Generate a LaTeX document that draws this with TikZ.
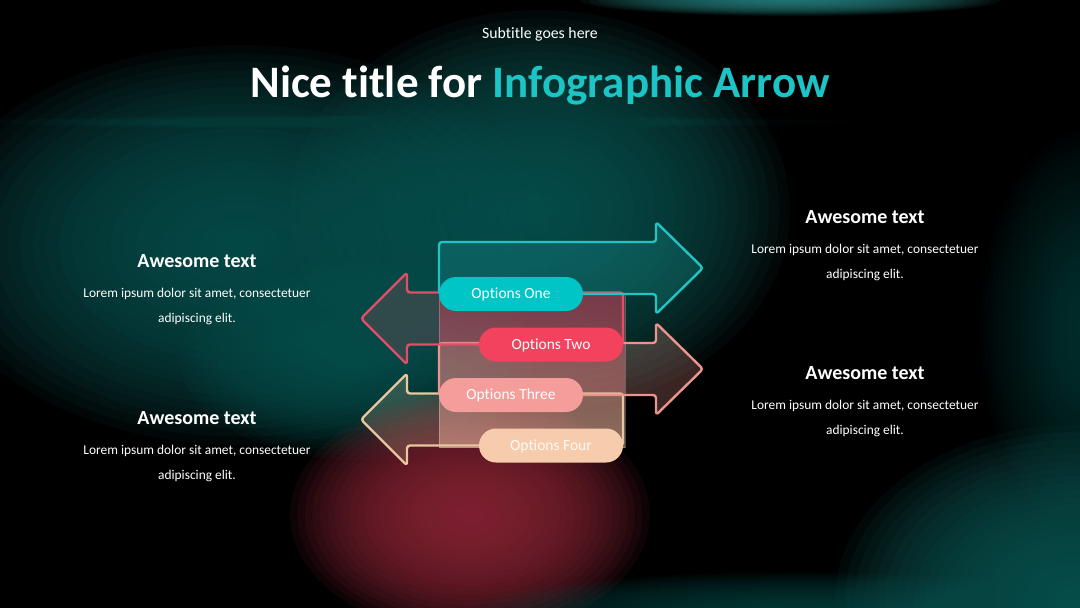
\documentclass[tikz,border=0pt]{standalone}
\usepackage{fontspec}
\setmainfont{Carlito}[Ligatures=NoCommon]

\definecolor{bgteal}{HTML}{0E5754}
\definecolor{bgteallight}{HTML}{2A8C89}
\definecolor{bgred}{HTML}{8C2738}
\definecolor{titleteal}{HTML}{1CC4C6}
\definecolor{arrteal}{HTML}{22C3C2}
\definecolor{arrred}{HTML}{E24E68}
\definecolor{arrpink}{HTML}{E9958E}
\definecolor{arrpeach}{HTML}{E7C6A0}
\definecolor{pillone}{HTML}{00C5C7}
\definecolor{pilltwo}{HTML}{F3425E}
\definecolor{pillthree}{HTML}{F59D9A}
\definecolor{pillfour}{HTML}{F6CCAC}
\definecolor{rtop}{HTML}{B8304A}
\definecolor{rbot}{HTML}{EBB3A0}

% soft glow built from concentric translucent ellipses
\newcommand\glowblob[6]{%
  \foreach \k in {1,...,24}{%
    \fill[#5, fill opacity=#6] (#1,#2) ellipse [x radius={#3*\k/24}, y radius={#4*\k/24}];}}

\tikzset{
  arrowshape/.style={line width=2.4pt, rounded corners=3pt, line join=round},
  pill/.style={rounded corners=17pt, minimum width=144pt, minimum height=34pt, inner sep=0pt,
    text height=10pt, text depth=1pt, font=\fontsize{15.5}{18}\selectfont, text=white},
  headtxt/.style={anchor=base, text=white, font=\bfseries\fontsize{20}{24}\selectfont, inner sep=0pt},
  bodytxt/.style={anchor=base, text=white, font=\fontsize{13.4}{16}\selectfont, inner sep=0pt},
}

\begin{document}
\begin{tikzpicture}[x=1pt, y=-1pt]
\useasboundingbox (0,0) rectangle (1080,608);
\fill[black] (0,0) rectangle (1080,608);

% background glows
\glowblob{240}{245}{310}{200}{bgteal}{0.085}
\glowblob{540}{210}{250}{200}{bgteal}{0.095}
\glowblob{360}{360}{180}{100}{bgteal}{0.07}
\glowblob{790}{0}{210}{16}{bgteallight}{0.08}
\glowblob{400}{122}{460}{7}{bgteallight}{0.012}
\glowblob{470}{515}{180}{120}{bgred}{0.1}
\glowblob{1075}{600}{240}{175}{bgteal}{0.1}
\glowblob{1090}{330}{110}{200}{bgteal}{0.04}
\glowblob{800}{612}{330}{40}{bgteal}{0.05}

% central glass panel
\shade[top color=rtop, bottom color=rbot, fill opacity=0.5] (439,293) rectangle (625,447);
\draw[white, opacity=0.25, line width=1pt] (439,293) rectangle (625,447);

% arrows
\draw[arrowshape, draw=arrpeach, fill=arrpeach, fill opacity=0.2]
  (623,393.5) -- (407,393.5) -- (407,373.5) -- (361,419.5) -- (407,465.5) -- (407,445.5) -- (623,445.5) -- cycle;
\draw[arrowshape, draw=arrpink, fill=arrpink, fill opacity=0.25]
  (439,343) -- (656,343) -- (656,323) -- (703,369) -- (656,415) -- (656,395) -- (439,395) -- cycle;
\draw[arrowshape, draw=arrred, fill=arrred, fill opacity=0.2]
  (623,292.5) -- (407,292.5) -- (407,272.5) -- (361,318.5) -- (407,364.5) -- (407,344.5) -- (623,344.5) -- cycle;
\draw[arrowshape, draw=arrteal, fill=arrteal, fill opacity=0.2]
  (439,242) -- (656,242) -- (656,222) -- (703,268) -- (656,314) -- (656,294) -- (439,294) -- cycle;

% pills
\node[pill, fill=pillone] (p1) at (511,294) {Options One};
\node[pill, fill=pilltwo] (p2) at (551,344.5) {Options Two};
\node[pill, fill=pillthree] (p3) at (511,395) {Options Three};
\node[pill, fill=pillfour, text=white!88!pillfour] (p4) at (551,445.5) {Options Four};

% titles
\node[anchor=base, text=white, font=\fontsize{15.8}{18}\selectfont, inner sep=0pt] (sub) at (540,38) {Subtitle goes here};
\node[anchor=base, text=white, font=\bfseries\fontsize{45}{50}\selectfont, inner sep=0pt] (title) at (540,97) {Nice title for \textcolor{titleteal}{Infographic Arrow}};

% side texts
\node[headtxt] (lh1) at (197,267) {Awesome text};
\node[bodytxt] (lb1a) at (197,297) {Lorem ipsum dolor sit amet, consectetuer};
\node[bodytxt] (lb1b) at (197,322) {adipiscing elit.};

\node[headtxt] (lh2) at (197,424) {Awesome text};
\node[bodytxt] (lb2a) at (197,454) {Lorem ipsum dolor sit amet, consectetuer};
\node[bodytxt] (lb2b) at (197,479) {adipiscing elit.};

\node[headtxt] (rh1) at (865,223) {Awesome text};
\node[bodytxt] (rb1a) at (865,253.5) {Lorem ipsum dolor sit amet, consectetuer};
\node[bodytxt] (rb1b) at (865,278.5) {adipiscing elit.};

\node[headtxt] (rh2) at (865,379) {Awesome text};
\node[bodytxt] (rb2a) at (865,409.5) {Lorem ipsum dolor sit amet, consectetuer};
\node[bodytxt] (rb2b) at (865,434.5) {adipiscing elit.};
\end{tikzpicture}
\end{document}
